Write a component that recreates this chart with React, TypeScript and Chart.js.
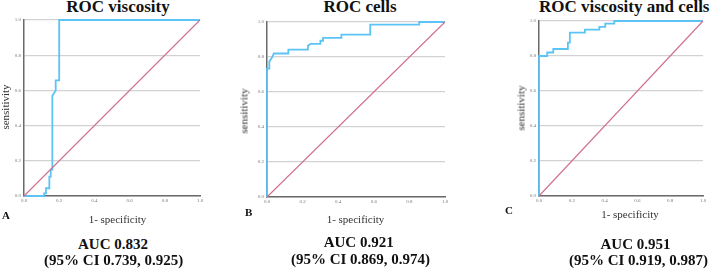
import React, { useEffect, useRef } from "react";
import { Chart, registerables } from "chart.js";

Chart.register(...registerables);

// ROC viscosity
const viscosityFpr = [0, 0.114, 0.114, 0.125, 0.125, 0.144, 0.144, 0.152, 0.152, 0.161, 0.161, 0.18, 0.18, 0.2, 0.2, 1];
const viscositySens = [0, 0, 0.015, 0.015, 0.044, 0.044, 0.11, 0.11, 0.15, 0.15, 0.57, 0.6, 0.657, 0.657, 1, 1];

// ROC cells
const cellsFpr = [0, 0, 0.013, 0.013, 0.03, 0.038, 0.12, 0.12, 0.23, 0.23, 0.245, 0.3, 0.3, 0.315, 0.315, 0.418, 0.418, 0.58, 0.58, 0.855, 0.855, 1];
const cellsSens = [0, 0.734, 0.734, 0.775, 0.8, 0.82, 0.82, 0.842, 0.842, 0.865, 0.875, 0.875, 0.893, 0.893, 0.909, 0.909, 0.928, 0.928, 0.985, 0.985, 1, 1];

// ROC viscosity and cells
const bothFpr = [0, 0, 0.05, 0.05, 0.087, 0.087, 0.176, 0.176, 0.188, 0.188, 0.28, 0.28, 0.368, 0.368, 0.404, 0.404, 0.459, 0.459, 1];
const bothSens = [0, 0.8, 0.8, 0.82, 0.82, 0.84, 0.84, 0.877, 0.877, 0.934, 0.934, 0.951, 0.951, 0.966, 0.966, 0.985, 0.985, 1, 1];

const refFpr = [0, 1];
const refSens = [0, 1];

const tickValues = [0, 0.2, 0.4, 0.6, 0.8, 1.0];

const titles = ["ROC viscosity", "ROC cells", "ROC viscosity and cells"];
const letters = ["A", "B", "C"];
const xTitle = "1- specificity";
const yTitle = "sensitivity";
const aucLines = ["AUC 0.832", "AUC 0.921", "AUC 0.951"];
const ciLines = ["(95% CI 0.739, 0.925)", "(95% CI 0.869, 0.974)", "(95% CI 0.919, 0.987)"];

const SERIF = "'Liberation Serif', 'Times New Roman', serif";
const BLUE = "rgb(92,195,245)";
const DIAG = "rgb(207,111,140)";

type PanelProps = { fpr: number[]; sens: number[]; x0: number; x1: number; top: number; bottom: number };

function RocPanel({ fpr, sens, x0, x1, top, bottom }: PanelProps) {
  const ref = useRef<HTMLCanvasElement | null>(null);
  const PADL = 20, PADT = 6, PADR = 6, PADB = 12;
  const w = x1 - x0 + PADL + PADR;
  const h = bottom - top + PADT + PADB;
  useEffect(() => {
    if (!ref.current) return;
    const chart = new Chart(ref.current, {
      type: "line",
      data: {
        datasets: [
          {
            data: fpr.map((x, i) => ({ x, y: sens[i] })),
            borderColor: BLUE,
            backgroundColor: BLUE,
            borderWidth: 1.8,
            pointRadius: 0,
            tension: 0,
            fill: false,
            clip: 4,
            order: 2,
          },
          {
            data: refFpr.map((x, i) => ({ x, y: refSens[i] })),
            borderColor: DIAG,
            backgroundColor: DIAG,
            borderWidth: 1.1,
            pointRadius: 0,
            tension: 0,
            fill: false,
            clip: 4,
            order: 1,
          },
        ],
      },
      options: {
        animation: false,
        responsive: false,
        maintainAspectRatio: false,
        devicePixelRatio: 1,
        layout: { padding: { left: 0, top: PADT, right: PADR, bottom: 0 } },
        plugins: { legend: { display: false }, tooltip: { enabled: false }, title: { display: false } },
        scales: {
          x: {
            type: "linear",
            min: 0,
            max: 1,
            afterFit: (s: any) => { s.height = PADB; },
            afterBuildTicks: (s: any) => { s.ticks = tickValues.map((v) => ({ value: v })); },
            grid: { display: false, drawTicks: false },
            border: { display: true, color: "#6a6a6a", width: 1.5 },
            ticks: {
              padding: 2,
              maxRotation: 0,
              autoSkip: false,
              font: { size: 5, family: SERIF },
              color: "#777",
              callback: (v: any) => Number(v).toFixed(1),
            },
          },
          y: {
            type: "linear",
            min: 0,
            max: 1,
            afterFit: (s: any) => { s.width = PADL; },
            afterBuildTicks: (s: any) => { s.ticks = tickValues.map((v) => ({ value: v })); },
            grid: { display: true, color: "#d2d2d2", lineWidth: 1.3, drawTicks: false },
            border: { display: true, color: "#6a6a6a", width: 1.5 },
            ticks: {
              padding: 3,
              autoSkip: false,
              font: { size: 5, family: SERIF },
              color: "#777",
              callback: (v: any) => Number(v).toFixed(1),
            },
          },
        },
      },
    } as any);
    return () => chart.destroy();
  }, []);
  return (
    <canvas
      ref={ref}
      width={w}
      height={h}
      style={{ position: "absolute", left: x0 - PADL, top: top - PADT, width: w, height: h }}
    />
  );
}

function Txt(props: { x: number; base: number; size: number; bold?: boolean; align?: "center" | "left"; children: React.ReactNode; color?: string }) {
  const { x, base, size, bold, align = "center", children, color = "#111" } = props;
  const topPos = base - 0.8375 * size;
  return (
    <div
      style={{
        position: "absolute",
        left: align === "center" ? x - 200 : x,
        width: align === "center" ? 400 : undefined,
        top: topPos,
        fontFamily: SERIF,
        fontSize: size,
        lineHeight: `${size}px`,
        fontWeight: bold ? "bold" : "normal",
        textAlign: align,
        whiteSpace: "nowrap",
        color,
      }}
    >
      {children}
    </div>
  );
}

function VTxt(props: { cx: number; cy: number; size: number; children: React.ReactNode }) {
  return (
    <div
      style={{
        position: "absolute",
        left: props.cx,
        top: props.cy,
        transform: "translate(-50%, -50%) rotate(-90deg)",
        fontFamily: SERIF,
        fontSize: props.size,
        lineHeight: `${props.size}px`,
        whiteSpace: "nowrap",
        color: "#333",
      }}
    >
      {props.children}
    </div>
  );
}

export default function App() {
  return (
    <div style={{ position: "fixed", left: 0, top: 0, width: 712, height: 271, overflow: "hidden", background: "#fff" }}>
      {/* Titles */}
      <Txt x={118} base={12} size={17} bold>{titles[0]}</Txt>
      <Txt x={360} base={12} size={17} bold>{titles[1]}</Txt>
      <Txt x={539} base={12} size={17} bold align="left">{titles[2]}</Txt>

      <RocPanel fpr={viscosityFpr} sens={viscositySens} x0={24} x1={200} top={20} bottom={196} />
      <RocPanel fpr={cellsFpr} sens={cellsSens} x0={267} x1={445} top={22} bottom={197} />
      <RocPanel fpr={bothFpr} sens={bothSens} x0={539} x1={703} top={21} bottom={196} />

      {/* y-axis titles */}
      <VTxt cx={5} cy={107} size={11}>{yTitle}</VTxt>
      <VTxt cx={244} cy={111} size={11}>{yTitle}</VTxt>
      <VTxt cx={521} cy={108} size={11}>{yTitle}</VTxt>

      {/* panel letters */}
      <Txt x={2} base={219} size={11} bold align="left">{letters[0]}</Txt>
      <Txt x={245} base={216.5} size={11} bold align="left">{letters[1]}</Txt>
      <Txt x={505} base={214} size={11} bold align="left">{letters[2]}</Txt>

      {/* x-axis titles */}
      <Txt x={117.5} base={223.5} size={11} color="#333">{xTitle}</Txt>
      <Txt x={355.5} base={223} size={11} color="#333">{xTitle}</Txt>
      <Txt x={630} base={218} size={11} color="#333">{xTitle}</Txt>

      {/* AUC */}
      <Txt x={113} base={250} size={15} bold>{aucLines[0]}</Txt>
      <Txt x={113.7} base={266} size={15} bold>{ciLines[0]}</Txt>
      <Txt x={358.7} base={248} size={15} bold>{aucLines[1]}</Txt>
      <Txt x={360.5} base={265} size={15} bold>{ciLines[1]}</Txt>
      <Txt x={635.5} base={250} size={15} bold>{aucLines[2]}</Txt>
      <Txt x={638.5} base={266} size={15} bold>{ciLines[2]}</Txt>
    </div>
  );
}
